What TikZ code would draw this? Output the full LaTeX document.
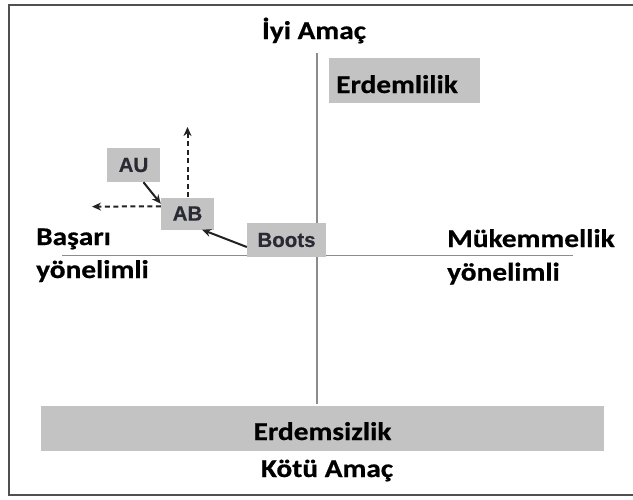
\documentclass[tikz,border=0pt]{standalone}
\usepackage{fontspec}
\setmainfont{Carlito}
\newfontfamily\calw[FakeStretch=1.15, BoldFeatures={FakeBold=0.6}]{Carlito}
\newfontfamily\arw[BoldFeatures={FakeBold=0.4}]{Liberation Sans}
\usetikzlibrary{arrows.meta}
\definecolor{framec}{HTML}{505050}
\definecolor{axisc}{HTML}{8C8C8C}
\definecolor{boxc}{HTML}{C3C3C3}
\definecolor{smallc}{HTML}{2A2A34}
\definecolor{arrc}{HTML}{222222}
\tikzset{
  big/.style={font=\calw\bfseries\fontsize{25.5}{28}\selectfont, text=black, inner sep=0pt},
  smallbox/.style={fill=boxc, inner sep=0pt, font=\arw\bfseries\fontsize{20.5}{22}\selectfont, text=smallc},
  graybar/.style={fill=boxc, inner sep=0pt},
  axis/.style={draw=axisc, line width=1.5pt},
  solidarr/.style={draw=arrc, line width=2pt, -{Stealth[length=9pt,width=8pt]}},
  dasharr/.style={draw=arrc, line width=2pt, dash pattern=on 5pt off 3.5pt, -{Stealth[length=9pt,width=8pt]}},
}
\begin{document}
\begin{tikzpicture}[x=1pt,y=-1pt]
\useasboundingbox (0,0) rectangle (633,499);
\fill[white] (0,0) rectangle (633,499);
% frame
\draw[framec, line width=2.4pt] (636,5) -- (9,5) -- (9,495) -- (636,495);
% axes
\coordinate (vtop) at (317,53);
\coordinate (vbot) at (317,404);
\coordinate (hleft) at (62,255.5);
\coordinate (hright) at (573,255.5);
\draw[axis] (vtop) -- (vbot);
\draw[axis] (hleft) -- (hright);
% gray boxes
\node[graybar, minimum width=151pt, minimum height=45pt] (erdemlilikbox) at (404.5,80.5) {};
\node[graybar, minimum width=563pt, minimum height=45pt] (erdemsizlikbox) at (322.5,428.5) {};
% big labels
\node[big, anchor=base] (iyi) at (314,39) {İyi Amaç};
\node[big, anchor=base] (erdemlilik) at (397,93) {Erdemlilik};
\node[big, anchor=base] (erdemsizlik) at (322.5,440) {Erdemsizlik};
\node[big, anchor=base] (kotu) at (327,477) {Kötü Amaç};
\node[big, anchor=base west] (basari) at (36,245) {Başarı};
\node[big, anchor=base west] (yon1) at (36,278) {yönelimli};
\node[big, anchor=base west] (muk) at (447,247) {Mükemmellik};
\node[big, anchor=base west] (yon2) at (447,280.5) {yönelimli};
% small boxes
\node[smallbox, minimum width=53pt, minimum height=34pt] (AU) at (133.5,165) {AU};
\node[smallbox, minimum width=53pt, minimum height=32pt] (AB) at (187.5,213.5) {AB};
\node[smallbox, minimum width=79pt, minimum height=34pt] (Boots) at (286.5,240) {Boots};
% arrows
\coordinate (uptip) at (187.5,127);
\coordinate (lefttip) at (92,206.6);
\draw[dasharr] (AB.north) -- (uptip);
\draw[dasharr] (AB.165) -- (lefttip);
\draw[solidarr] (AU.-60) -- (AB.160);
\draw[solidarr] (Boots.190) -- (AB.-48);
\end{tikzpicture}
\end{document}
